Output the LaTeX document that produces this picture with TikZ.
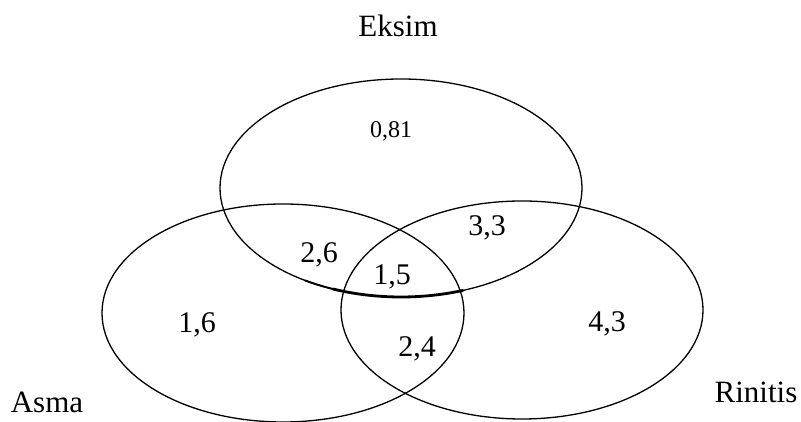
\documentclass[tikz,border=0pt]{standalone}
\usepackage{fontspec}
\setmainfont{Liberation Serif}
\usetikzlibrary{shapes.geometric}
\begin{document}
\begin{tikzpicture}[x=1pt,y=1pt,
  setellipse/.style={draw, ellipse, line width=1.3pt, inner sep=0pt,
    minimum width=362pt, minimum height=218pt},
  numlabel/.style={anchor=base, inner sep=0pt, font=\fontsize{30}{36}\selectfont},
  smalllabel/.style={anchor=base, inner sep=0pt, font=\fontsize{24}{29}\selectfont},
  setname/.style={anchor=base, inner sep=0pt, font=\fontsize{31}{37}\selectfont}]
\useasboundingbox (0,0) rectangle (801,422);
\node[setellipse] (eksim) at (401,234) {};
\node[setellipse] (asma) at (283,109) {};
\node[setellipse] (rinitis) at (522,112) {};
% thickened stroke on the lower edge of the Eksim set
\draw[line width=1.9pt, line cap=round] (eksim.center) ++(238:181 and 109)
  arc[start angle=238, end angle=250, x radius=181, y radius=109];
\draw[line width=2.8pt, line cap=round] (eksim.center) ++(248:181 and 109)
  arc[start angle=248, end angle=290, x radius=181, y radius=109];
\node[setname] (leksim) at (398,385) {Eksim};
\node[setname] (lasma) at (47,9) {Asma};
\node[setname] (lrinitis) at (756,19) {Rinitis};
\node[smalllabel] (v081) at (391,284) {0,81};
\node[numlabel] (v33) at (487,186) {3,3};
\node[numlabel] (v26) at (319,159) {2,6};
\node[numlabel] (v15) at (392,137) {1,5};
\node[numlabel] (v16) at (197,89) {1,6};
\node[numlabel] (v43) at (607,90) {4,3};
\node[numlabel] (v24) at (417,65) {2,4};
\end{tikzpicture}
\end{document}
